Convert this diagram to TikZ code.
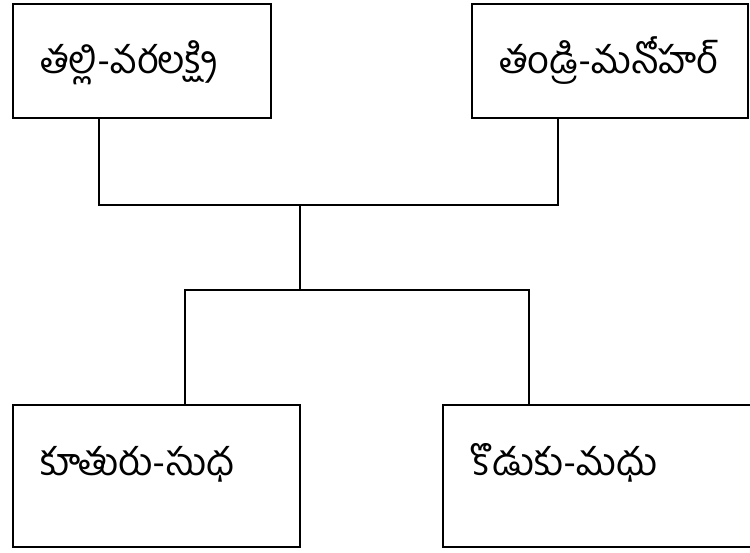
\documentclass[tikz,border=0pt]{standalone}
\usepackage{fontspec}
\newfontfamily\telugu[Script=Telugu]{Hind Guntur}
\begin{document}
\begin{tikzpicture}[x=1pt,y=1pt,
  box/.style={draw=black, line width=1.7pt, anchor=north west, inner sep=0pt, outer sep=0pt},
  lbl/.style={anchor=base west, inner sep=0pt, font=\telugu\fontsize{38}{44}\selectfont},
  conn/.style={draw=black, line width=1.7pt}]
\useasboundingbox (0,0) rectangle (750,552);
\node[box, minimum width=258pt, minimum height=114pt] (A) at (13,548) {};
\node[box, minimum width=276pt, minimum height=114pt] (B) at (472,548) {};
\node[box, minimum width=287pt, minimum height=142pt] (C) at (13,147) {};
\node[box, minimum width=320pt, minimum height=142pt] (D) at (443,147) {};
\node[lbl] (tA) at ([shift={(27pt,-70pt)}]A.north west) {తల్లి-వరలక్ష్మి};
\node[lbl] (tB) at ([shift={(27pt,-70pt)}]B.north west) {తండ్రి-మనోహర్};
\node[lbl] (tC) at ([shift={(27pt,-70pt)}]C.north west) {కూతురు-సుధ};
\node[lbl] (tD) at ([shift={(27pt,-70pt)}]D.north west) {కొడుకు-మధు};
\coordinate (j1) at (300,347);
\coordinate (j2) at (300,262);
\draw[conn] ([xshift=86pt]A.south west) |- (j1) -| ([xshift=86pt]B.south west);
\draw[conn] (j1) -- (j2);
\draw[conn] ([xshift=172pt]C.north west) |- (j2) -| ([xshift=86pt]D.north west);
\end{tikzpicture}
\end{document}
